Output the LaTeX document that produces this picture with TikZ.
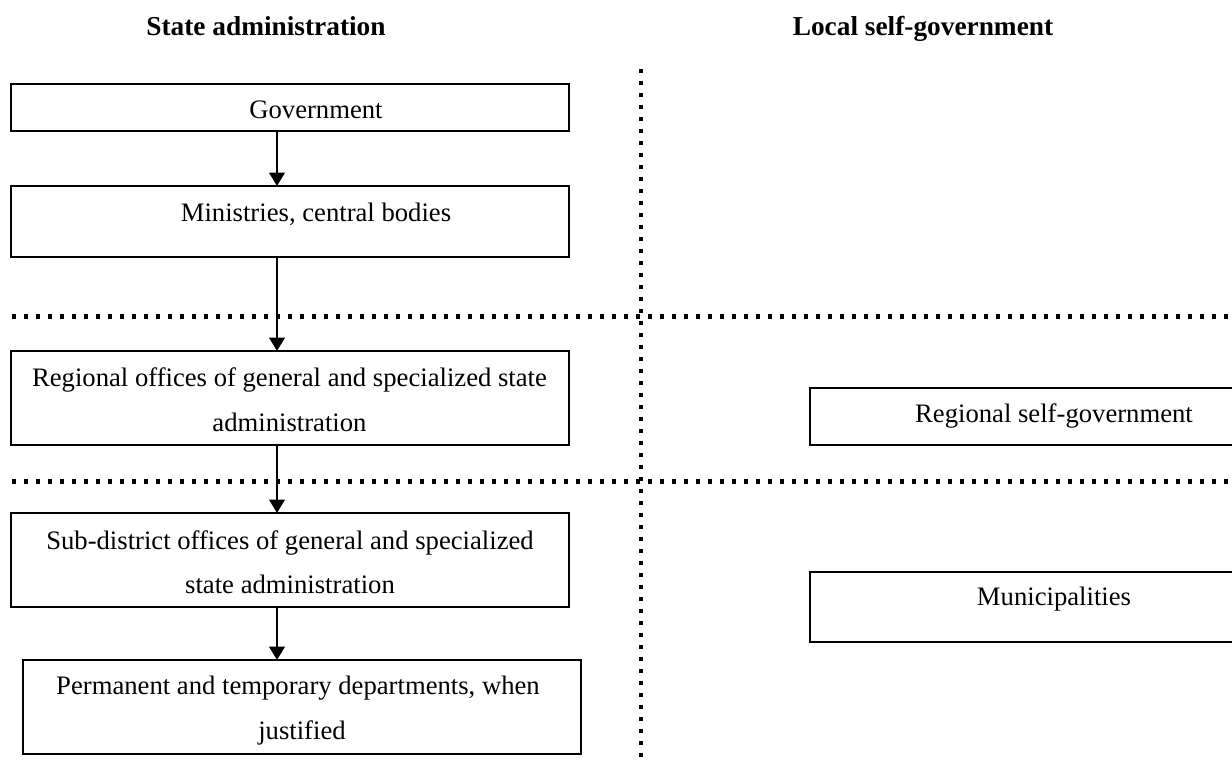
\documentclass[tikz,border=0pt]{standalone}
\usepackage{fontspec}
\setmainfont{Liberation Serif}
\usetikzlibrary{arrows.meta}
\tikzset{
  box/.style={draw, line width=0.75bp, rectangle, inner sep=0pt, outer sep=0pt},
  txt/.style={anchor=base, inner sep=0pt, font=\fontsize{12bp}{14bp}\selectfont},
  head/.style={anchor=base, inner sep=0pt, font=\fontsize{12.3bp}{14bp}\selectfont\bfseries},
  arr/.style={line width=0.85bp, -{Triangle[width=7bp,length=6bp]}},
  dotline/.style={line width=1.9bp, dash pattern=on 1.9bp off 3.5bp}
}
\begin{document}
\begin{tikzpicture}[x=0.45bp,y=-0.45bp]
\path[use as bounding box, clip] (0,0) rectangle (1232,762);
\fill[white] (0,0) rectangle (1232,762);
% headings
\node[head] (h1) at (266,36) {State administration};
\node[head] (h2) at (923,36) {Local self-government};
% dotted separators
\coordinate (va) at (641,69);
\coordinate (vb) at (641,762);
\coordinate (h1a) at (12,316.5);
\coordinate (h1b) at (1232,316.5);
\coordinate (h2a) at (12,481.5);
\coordinate (h2b) at (1232,481.5);
\draw[dotline] (h1a) -- (h1b);
\draw[dotline] (h2a) -- (h2b);
\draw[dotline] (va) -- (vb);
% boxes
\node[box, minimum width=251.1bp, minimum height=21.15bp] (gov) at (290,107.5) {};
\node[box, minimum width=251.1bp, minimum height=31.95bp] (min) at (290,221.5) {};
\node[box, minimum width=251.1bp, minimum height=42.3bp] (reg) at (290,398) {};
\node[box, minimum width=251.1bp, minimum height=42.3bp] (sub) at (290,560) {};
\node[box, minimum width=251.1bp, minimum height=42.3bp] (perm) at (302,707) {};
\node[box, minimum width=193.5bp, minimum height=25.65bp] (rsg) at (1025,416.5) {};
\node[box, minimum width=193.5bp, minimum height=31.5bp] (mun) at (1025,607) {};
% texts
\node[txt] (tgov) at (316,119) {Government};
\node[txt] (tmin) at (316,221.7) {Ministries, central bodies};
\node[txt] (treg1) at (289.5,386) {Regional offices of general and specialized state};
\node[txt] (treg2) at (289.5,431.7) {administration};
\node[txt] (tsub1) at (290,549) {Sub-district offices of general and specialized};
\node[txt] (tsub2) at (290,594) {state administration};
\node[txt] (tperm1) at (298,694) {Permanent and temporary departments, when};
\node[txt] (tperm2) at (302,739.3) {justified};
\node[txt] (trsg) at (1054,422.7) {Regional self-government};
\node[txt] (tmun) at (1054,606) {Municipalities};
% arrows
\coordinate (ax) at (277,0);
\draw[arr] (gov.south -| ax) -- (min.north -| ax);
\draw[arr] (min.south -| ax) -- (reg.north -| ax);
\draw[arr] (reg.south -| ax) -- (sub.north -| ax);
\draw[arr] (sub.south -| ax) -- (perm.north -| ax);
\end{tikzpicture}
\end{document}
